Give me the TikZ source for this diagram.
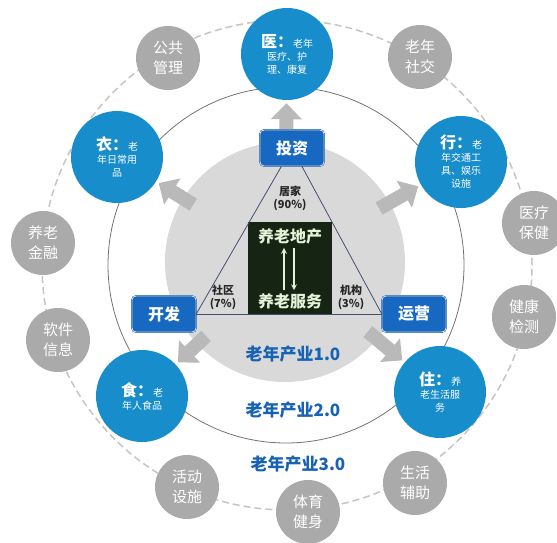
\documentclass[tikz,border=0pt]{standalone}
\usepackage{fontspec}
\setmainfont{Noto Sans CJK SC}
\usepackage{xcolor}
\usepackage{tikz}
\usetikzlibrary{shapes.geometric, arrows, arrows.meta, positioning}
\definecolor{hubblue}{RGB}{24,141,204}
\definecolor{roleblue}{RGB}{22,104,192}
\definecolor{fieldgray}{RGB}{170,170,170}
\definecolor{diskgray}{RGB}{217,217,217}
\definecolor{arrowgray}{RGB}{185,185,185}
\definecolor{ringgray}{RGB}{200,195,195}
\definecolor{coredark}{RGB}{22,36,20}
\definecolor{coretext}{RGB}{228,242,215}
\definecolor{stageblue}{RGB}{24,98,182}
\definecolor{edgeslate}{RGB}{70,80,110}

\begin{document}
\begin{tikzpicture}[
    x=1pt, y=-1pt,
    hub/.style={circle, fill=hubblue, text=white, minimum size=92pt, inner sep=0pt, align=center, font=\fontsize{10}{13}\selectfont},
    field/.style={circle, fill=fieldgray, text=white, minimum size=64pt, inner sep=0pt, align=center, font=\fontsize{15}{20}\selectfont},
    role/.style={rectangle, fill=roleblue, draw=roleblue!85!black, double=white!85!roleblue, double distance=0.8pt, text=white, minimum width=64pt, minimum height=36pt, rounded corners=4pt, font=\fontsize{16}{16}\selectfont\bfseries},
    share/.style={align=center, text=black!85, font=\fontsize{11}{13}\selectfont\bfseries},
    stage/.style={text=stageblue, font=\fontsize{17}{17}\selectfont\bfseries},
    coretext/.style={text=coretext, font=\fontsize{16}{16}\selectfont\bfseries},
    fatarrow/.style={-{Triangle[length=16pt, width=30pt]}, line width=14pt, draw=arrowgray, shorten <=-12pt, shorten >=3pt},
    arrow/.style={->, line width=1.6pt, >=stealth, draw=coretext}
]

\useasboundingbox (0,0) rectangle (557,542);

% Rings
\draw[ringgray, line width=1.5pt, dash pattern=on 7pt off 4pt] (287,265) circle[radius=245pt];
\draw[black!55, line width=0.8pt] (286,265) circle[radius=178pt];

% Gray disk
\node[circle, fill=diskgray, minimum size=240pt, inner sep=0pt] (disk) at (285,262) {};

% Blue hubs
\node[hub] (yi) at (287,54) {{\fontsize{16}{16}\selectfont\bfseries 医：}老年\\医疗、护\\理、康复};
\node[hub] (yi2) at (117,157) {{\fontsize{16}{16}\selectfont\bfseries 衣：}老\\年日常用\\品};
\node[hub] (xing) at (461,162) {{\fontsize{16}{16}\selectfont\bfseries 行：}老\\年交通工\\具、娱乐\\设施};
\node[hub] (shi) at (142,396) {{\fontsize{16}{16}\selectfont\bfseries 食：}老\\年人食品};
\node[hub] (zhu) at (440,392) {{\fontsize{16}{16}\selectfont\bfseries 住：}养\\老生活服\\务};

% Arrows out of the disk
\draw[fatarrow] (disk) -- (yi);
\draw[fatarrow] (disk) -- (yi2);
\draw[fatarrow] (disk) -- (xing);
\draw[fatarrow] (disk) -- (shi);
\draw[fatarrow] (disk) -- (zhu);

% Core
\node[rectangle, fill=coredark, minimum width=84pt, minimum height=93pt] (core) at (290,268) {};
\node[coretext, below=4pt of core.north] (dichan) {养老地产};
\node[coretext, above=2pt of core.south] (fuwu) {养老服务};
\draw[arrow] ([xshift=-6pt]fuwu.north) -- ([xshift=-6pt]dichan.south);
\draw[arrow] ([xshift=4pt]dichan.south) -- ([xshift=4pt]fuwu.north);

% Roles
\node[role] (touzi) at (292,148) {投资};
\node[role] (kaifa) at (164,314) {开发};
\node[role] (yunying) at (414,314) {运营};

\draw[edgeslate, line width=0.8pt] (touzi) -- (kaifa.east);
\draw[edgeslate, line width=0.8pt] (touzi) -- (yunying.west);
\draw[edgeslate, line width=0.8pt] (kaifa.east) -- (yunying.west);

% Shares
\node[share] (jujia) at (290,198) {居家\\(90\%)};
\node[share] (shequ) at (223,297) {社区\\(7\%)};
\node[share] (jigou) at (351,297) {机构\\(3\%)};

% Stages
\node[stage] (stage1) at (293,354) {老年产业1.0};
\node[stage] (stage2) at (293,410) {老年产业2.0};
\node[stage] (stage3) at (298,464) {老年产业3.0};

% Gray fields
\node[field] (gonggong) at (168,58) {公共\\管理};
\node[field] (shejiao) at (420,57) {老年\\社交};
\node[field] (jinrong) at (43,243) {养老\\金融};
\node[field] (ruanjian) at (58,340) {软件\\信息};
\node[field] (huodong) at (187,487) {活动\\设施};
\node[field] (tiyu) at (308,512) {体育\\健身};
\node[field] (shenghuo) at (415,483) {生活\\辅助};
\node[field] (baojian) at (534,223) {医疗\\保健};
\node[field] (jiankang) at (524,317) {健康\\检测};

\end{tikzpicture}
\end{document}
